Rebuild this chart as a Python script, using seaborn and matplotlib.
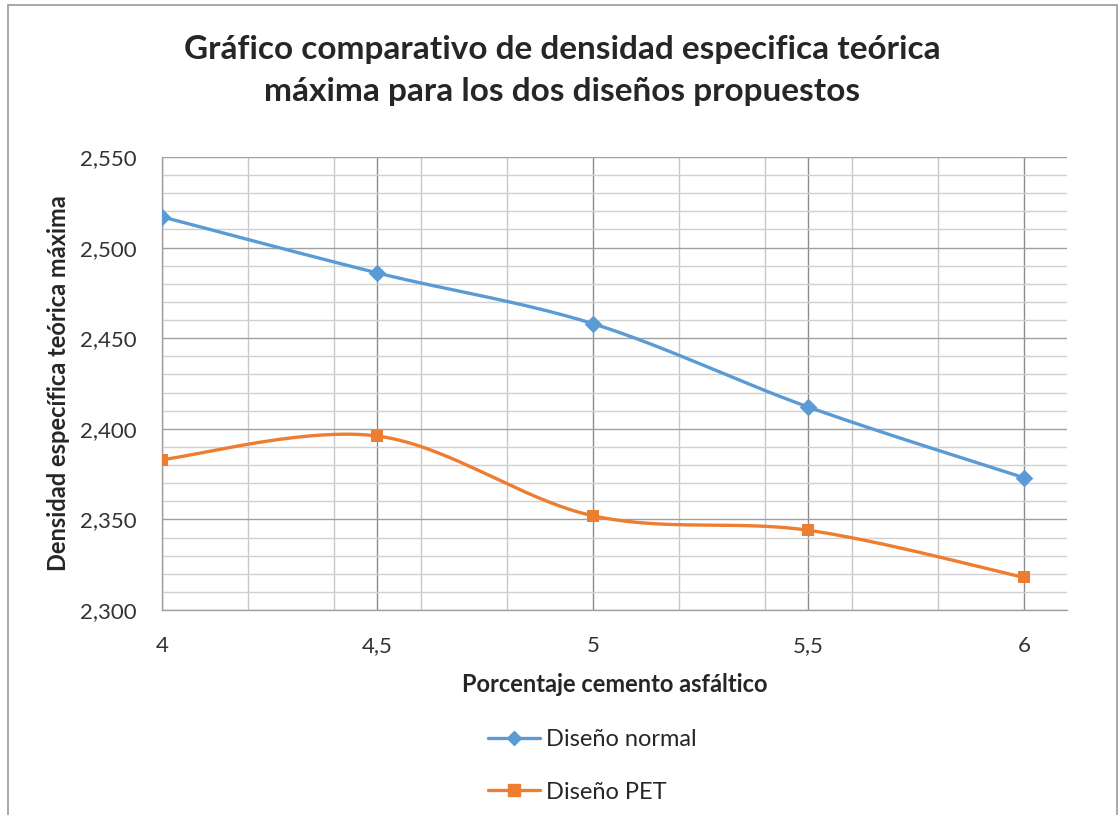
import numpy as np
import pandas as pd
import matplotlib
matplotlib.use("Agg")
import matplotlib.pyplot as plt
import seaborn as sns
from matplotlib.ticker import MultipleLocator, FuncFormatter
from matplotlib.lines import Line2D
from matplotlib.patches import Rectangle

# ---- data ----
porcentaje = [4.0, 4.5, 5.0, 5.5, 6.0]
diseno_normal = [2.517, 2.486, 2.458, 2.412, 2.373]
diseno_pet = [2.383, 2.396, 2.352, 2.344, 2.318]
series_names = ["Diseño normal", "Diseño PET"]
colors = ["#5B9BD5", "#ED7D31"]
markers = ["D", "s"]

title_lines = ["Gráfico comparativo de densidad especifica teórica",
               "máxima para los dos diseños propuestos"]
xlabel = "Porcentaje cemento asfáltico"
ylabel = "Densidad específica teórica máxima"

sns.set_theme(style="white")
plt.rcParams['font.family'] = ['Lato', 'DejaVu Sans']

fig = plt.figure(figsize=(11.2, 8.15), dpi=100)
W, H = 1120, 815
ax = fig.add_axes([162 / W, 1 - 610 / H, (1067 - 162) / W, (610 - 157) / H])

XMIN, XMAX, YMIN, YMAX = 4.0, 6.1, 2.300, 2.550
ax.set_xlim(XMIN, XMAX)
ax.set_ylim(YMIN, YMAX)


def smooth(xs, ys, sx, sy, n=40):
    """Excel-like smoothed line (Catmull-Rom Bezier in screen-scaled space)."""
    P = np.column_stack([np.asarray(xs) * sx, np.asarray(ys) * sy])
    out = []
    for i in range(len(P) - 1):
        p0 = P[i - 1] if i > 0 else P[i]
        p1, p2 = P[i], P[i + 1]
        p3 = P[i + 2] if i + 2 < len(P) else P[i + 1]
        c1 = p1 + (p2 - p0) / 6.0
        c2 = p2 - (p3 - p1) / 6.0
        t = np.linspace(0, 1, n)[:, None]
        seg = ((1 - t) ** 3) * p1 + 3 * ((1 - t) ** 2) * t * c1 + 3 * (1 - t) * t ** 2 * c2 + t ** 3 * p2
        out.append(seg if i == 0 else seg[1:])
    S = np.vstack(out)
    return S[:, 0] / sx, S[:, 1] / sy

sx = 905 / (XMAX - XMIN)
sy = 453 / (YMAX - YMIN)

for name, vals, c, m in zip(series_names, [diseno_normal, diseno_pet], colors, markers):
    cx, cy = smooth(porcentaje, vals, sx, sy)
    curve = pd.DataFrame({"x": cx, "y": cy})
    sns.lineplot(data=curve, x="x", y="y", ax=ax, color=c, linewidth=2.4,
                 sort=False, estimator=None, zorder=3)
    pts = pd.DataFrame({"x": porcentaje, "y": vals})
    sns.scatterplot(data=pts, x="x", y="y", ax=ax, color=c, marker=m,
                    s=85 if m == "s" else 80, edgecolor=c, linewidth=0, zorder=4)

# grid
ax.xaxis.set_major_locator(MultipleLocator(0.5))
ax.xaxis.set_minor_locator(MultipleLocator(0.2))
ax.yaxis.set_major_locator(MultipleLocator(0.05))
ax.yaxis.set_minor_locator(MultipleLocator(0.01))
ax.grid(which="major", axis="x", color="#8C8C8C", linewidth=1.0)
ax.grid(which="minor", axis="x", color="#C8C8C8", linewidth=1.0)
ax.grid(which="major", axis="y", color="#A0A0A0", linewidth=1.0)
ax.grid(which="minor", axis="y", color="#D0D0D0", linewidth=1.0)
ax.set_axisbelow(True)
ax.tick_params(which="both", length=0)
for s in ["top", "right"]:
    ax.spines[s].set_visible(False)
for s in ["left", "bottom"]:
    ax.spines[s].set_color("#A0A0A0")
    ax.spines[s].set_linewidth(1.0)

ax.xaxis.set_major_formatter(FuncFormatter(lambda v, p: ("%g" % v).replace(".", ",") if v <= 6.0001 else ""))
ax.yaxis.set_major_formatter(FuncFormatter(lambda v, p: ("%.3f" % v).replace(".", ",")))
ax.tick_params(axis="x", labelsize=16, pad=19, labelcolor="#333333")
ax.tick_params(axis="y", labelsize=16, pad=18, labelcolor="#333333")

ax.set_xlabel(xlabel, fontsize=17, fontweight="bold")
ax.set_ylabel(ylabel, fontsize=17, fontweight="bold")
ax.xaxis.set_label_coords((615 - 162) / 905, -(673 - 610) / 453)
ax.yaxis.set_label_coords(-(162 - 70) / 905, (610 - 383) / 453)

for line, yc in zip(title_lines, [50, 92]):
    fig.text(562 / W, 1 - yc / H, line, ha="center", va="center", fontsize=24,
             fontweight="bold")

handles = [Line2D([0], [0], color=c, marker=m, markersize=8 if m == "s" else 7.5,
                  linewidth=2.4) for c, m in zip(colors, markers)]
fig.legend(handles, series_names, loc="center left", bbox_to_anchor=(488 / W, 1 - 766 / H),
           frameon=False, fontsize=17, labelspacing=1.32, handlelength=2.2, handletextpad=0.25,
           borderpad=0, borderaxespad=0)

fig.add_artist(Rectangle((8 / W, -0.01), (1117 - 8) / W, 1 - 5 / H + 0.01,
                         transform=fig.transFigure, fill=False, edgecolor="#9A9A9A", linewidth=1.2))

fig.savefig("out.png", dpi=100)
